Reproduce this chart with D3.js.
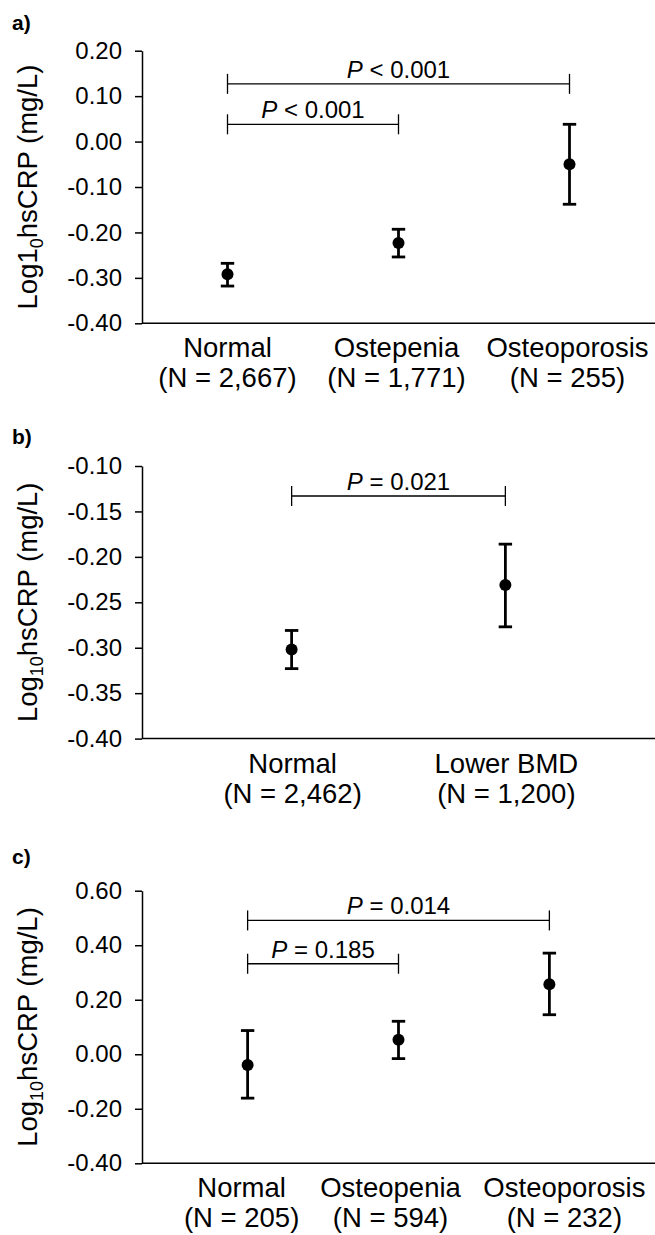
<!DOCTYPE html>
<html>
<head>
<meta charset="utf-8">
<script src="https://cdn.jsdelivr.net/npm/d3@7"></script>
<style>
    body { margin: 0; background: #fff; }
    text { font-family: "Liberation Sans", Arial, sans-serif; fill: #000; }
</style>
</head>
<body>
<svg id="chart"></svg>
<script>
'use strict';

// panel a) values
var catsA = ['Normal', 'Ostepenia', 'Osteoporosis'];
var countsA = ['(N = 2,667)', '(N = 1,771)', '(N = 255)'];
var meanA = [-0.292, -0.223, -0.050];
var upperA = [-0.268, -0.193, 0.038];
var lowerA = [-0.318, -0.254, -0.138];
var ticksA = [0.20, 0.10, 0.00, -0.10, -0.20, -0.30, -0.40];
var pairsA = [[0, 2], [0, 1]];
var levelsA = [0.127, 0.038];
var pTextA = [' < 0.001', ' < 0.001'];

// panel b)
var catsB = ['Normal', 'Lower BMD'];
var countsB = ['(N = 2,462)', '(N = 1,200)'];
var meanB = [-0.302, -0.231];
var upperB = [-0.281, -0.186];
var lowerB = [-0.323, -0.277];
var ticksB = [-0.10, -0.15, -0.20, -0.25, -0.30, -0.35, -0.40];
var pairsB = [[0, 1]];
var levelsB = [-0.133];
var pTextB = [' = 0.021'];

// panel c)
var catsC = ['Normal', 'Osteopenia', 'Osteoporosis'];
var countsC = ['(N = 205)', '(N = 594)', '(N = 232)'];
var meanC = [-0.039, 0.053, 0.257];
var upperC = [0.087, 0.121, 0.371];
var lowerC = [-0.161, -0.016, 0.145];
var ticksC = [0.60, 0.40, 0.20, 0.00, -0.20, -0.40];
var pairsC = [[0, 2], [0, 1]];
var levelsC = [0.491, 0.332];
var pTextC = [' = 0.014', ' = 0.185'];

var canvasWidth = 655;
var canvasHeight = 1235;
var left = 142;
var plotHeight = 272.6;

var svg = d3.select('#chart')
    .attr('width', canvasWidth)
    .attr('height', canvasHeight);

// layout per panel; labelShift nudges the category text the way the original does
var panels = [
    {label: 'a)', labelY: 30, top: 50.7, cats: catsA, counts: countsA, mean: meanA, upper: upperA, lower: lowerA,
        ticks: ticksA, pairs: pairsA, levels: levelsA, pText: pTextA, pad: 0.5, logPart: 'Log1', sub: '0',
        labelShift: [0, -2, -2]},
    {label: 'b)', labelY: 444, top: 466, cats: catsB, counts: countsB, mean: meanB, upper: upperB, lower: lowerB,
        ticks: ticksB, pairs: pairsB, levels: levelsB, pText: pTextB, pad: 0.7, logPart: 'Log', sub: '10',
        labelShift: [1, 1]},
    {label: 'c)', labelY: 864, top: 890.7, cats: catsC, counts: countsC, mean: meanC, upper: upperC, lower: lowerC,
        ticks: ticksC, pairs: pairsC, levels: levelsC, pText: pTextC, pad: 0.7, logPart: 'Log', sub: '10',
        labelShift: [-6, -8, 15]}
];

function drawPanel(p) {
    var bottom = p.top + plotHeight;
    var xScale = d3.scalePoint()
        .domain(p.cats)
        .range([left, canvasWidth])
        .padding(p.pad);
    var yScale = d3.scaleLinear()
        .domain([d3.min(p.ticks), d3.max(p.ticks)])
        .range([bottom, p.top]);

    // panel letter
    svg.append('text')
        .attr('x', 12)
        .attr('y', p.labelY)
        .attr('font-size', 21)
        .attr('font-weight', 'bold')
        .text(p.label);

    // y axis
    var yAxis = svg.append('g')
        .attr('transform', 'translate(' + left + ',0)')
        .call(d3.axisLeft(yScale)
            .tickValues(p.ticks)
            .tickSize(7)
            .tickSizeOuter(0)
            .tickPadding(13)
            .tickFormat(function (d) { return d.toFixed(2); }));
    yAxis.attr('font-size', null).attr('font-family', null);
    yAxis.selectAll('path, line').attr('stroke', '#000').attr('stroke-width', 1.5);
    yAxis.selectAll('text').attr('font-size', 24).attr('fill', '#000');

    // x axis line (no ticks)
    svg.append('line')
        .attr('x1', left)
        .attr('x2', canvasWidth + 2)
        .attr('y1', bottom)
        .attr('y2', bottom)
        .attr('stroke', '#000')
        .attr('stroke-width', 1.5);

    // y axis title
    var cy = (p.top + bottom) / 2;
    var title = svg.append('text')
        .attr('transform', 'rotate(-90)')
        .attr('x', -cy)
        .attr('y', 37)
        .attr('text-anchor', 'middle')
        .attr('font-size', 27.5);
    title.append('tspan').text(p.logPart);
    title.append('tspan').attr('font-size', 18).attr('dy', 6).text(p.sub);
    title.append('tspan').attr('dy', -6).text('hsCRP (mg/L)');

    // category labels
    var cat = svg.append('g').selectAll('g')
        .data(p.cats)
        .enter()
        .append('g');
    cat.append('text')
        .attr('x', function (d, i) { return xScale(d) + p.labelShift[i]; })
        .attr('y', bottom + 34)
        .attr('text-anchor', 'middle')
        .attr('font-size', 27.5)
        .text(function (d) { return d; });
    cat.append('text')
        .attr('x', function (d, i) { return xScale(d) + p.labelShift[i]; })
        .attr('y', bottom + 64)
        .attr('text-anchor', 'middle')
        .attr('font-size', 27.5)
        .text(function (d, i) { return p.counts[i]; });

    // error bars
    var bars = svg.append('g').selectAll('g')
        .data(p.cats)
        .enter()
        .append('g')
        .attr('stroke', '#000')
        .attr('stroke-width', 2.8);
    bars.append('line')
        .attr('x1', function (d) { return xScale(d); })
        .attr('x2', function (d) { return xScale(d); })
        .attr('y1', function (d, i) { return yScale(p.upper[i]); })
        .attr('y2', function (d, i) { return yScale(p.lower[i]); });
    bars.append('line')
        .attr('x1', function (d) { return xScale(d) - 6.7; })
        .attr('x2', function (d) { return xScale(d) + 6.7; })
        .attr('y1', function (d, i) { return yScale(p.upper[i]); })
        .attr('y2', function (d, i) { return yScale(p.upper[i]); });
    bars.append('line')
        .attr('x1', function (d) { return xScale(d) - 6.7; })
        .attr('x2', function (d) { return xScale(d) + 6.7; })
        .attr('y1', function (d, i) { return yScale(p.lower[i]); })
        .attr('y2', function (d, i) { return yScale(p.lower[i]); });

    // mean points
    svg.append('g').selectAll('circle')
        .data(p.cats)
        .enter()
        .append('circle')
        .attr('cx', function (d) { return xScale(d); })
        .attr('cy', function (d, i) { return yScale(p.mean[i]); })
        .attr('r', 6)
        .attr('fill', '#000');

    // significance brackets
    p.pairs.forEach(function (pair, i) {
        var x1 = xScale(p.cats[pair[0]]);
        var x2 = xScale(p.cats[pair[1]]);
        var yy = yScale(p.levels[i]);
        var b = svg.append('g').attr('stroke', '#000').attr('stroke-width', 1.3);
        b.append('line').attr('x1', x1).attr('x2', x2).attr('y1', yy).attr('y2', yy);
        b.append('line').attr('x1', x1).attr('x2', x1).attr('y1', yy - 10).attr('y2', yy + 10);
        b.append('line').attr('x1', x2).attr('x2', x2).attr('y1', yy - 10).attr('y2', yy + 10);
        var t = svg.append('text')
            .attr('x', (x1 + x2) / 2)
            .attr('y', yy - 6)
            .attr('text-anchor', 'middle')
            .attr('font-size', 24);
        t.append('tspan').attr('font-style', 'italic').text('P');
        t.append('tspan').text(p.pText[i]);
    });
}

panels.forEach(drawPanel);
</script>
</body>
</html>
